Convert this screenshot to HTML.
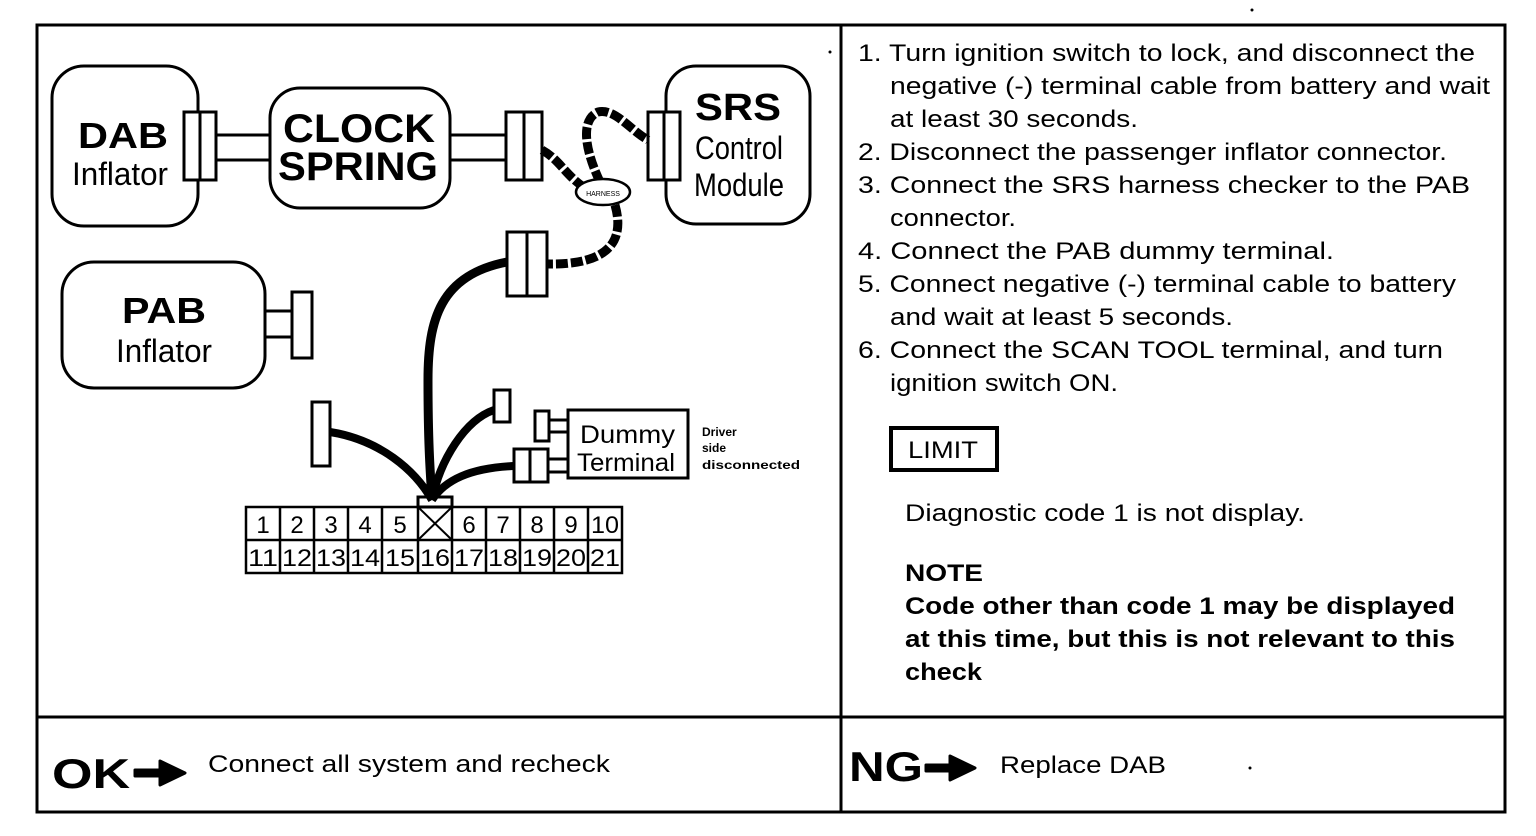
<!DOCTYPE html>
<html><head><meta charset="utf-8"><style>
html,body{margin:0;padding:0;background:#fff;}
svg{display:block;}
text{font-family:"Liberation Sans",Arial,sans-serif;fill:#000;}
</style></head><body>
<svg width="1536" height="836" viewBox="0 0 1536 836" xmlns="http://www.w3.org/2000/svg">
<rect x="0" y="0" width="1536" height="836" fill="#fff"/>
<!-- frame -->
<rect x="37" y="25" width="1468" height="787" fill="none" stroke="#000" stroke-width="3"/>
<line x1="841" y1="25" x2="841" y2="812" stroke="#000" stroke-width="3"/>
<line x1="37" y1="717" x2="1505" y2="717" stroke="#000" stroke-width="3"/>
<circle cx="1252" cy="10" r="1.5"/><circle cx="830" cy="52" r="1.5"/><circle cx="1250" cy="768" r="1.5"/>

<g fill="none" stroke="#000" stroke-width="3">
<!-- DAB -->
<rect x="52" y="66" width="146" height="160" rx="32"/>
<rect x="184" y="112" width="32" height="68" fill="#fff"/><line x1="200" y1="112" x2="200" y2="180"/>
<line x1="216" y1="135" x2="270" y2="135"/><line x1="216" y1="160" x2="270" y2="160"/>
<!-- Clock -->
<rect x="270" y="88" width="180" height="120" rx="30"/>
<line x1="450" y1="135" x2="506" y2="135"/><line x1="450" y1="160" x2="506" y2="160"/>
<rect x="506" y="112" width="36" height="68" fill="#fff"/><line x1="524" y1="112" x2="524" y2="180"/>
<!-- SRS -->
<rect x="666" y="66" width="144" height="158" rx="30"/>
<rect x="648" y="112" width="32" height="68" fill="#fff"/><line x1="664" y1="112" x2="664" y2="180"/>
<!-- harness -->
<g stroke-width="9" stroke-dasharray="12 3">
<path d="M542 150 C560 160 565 175 585 188"/>
<path d="M600 182 C585 150 580 120 598 112 C615 108 630 130 648 140"/>
<path d="M615 205 C625 240 610 265 548 264"/>
</g>
<ellipse cx="603" cy="192" rx="27" ry="13" fill="#fff" stroke-width="2.5"/>
<rect x="507" y="232" width="40" height="64" fill="#fff"/><line x1="527" y1="232" x2="527" y2="296"/>
<!-- main cable -->
<path d="M507 262 C440 275 428 320 428 380 C428 440 430 470 432 500" stroke-width="9"/>
<path d="M330 432 C380 440 415 470 432 500" stroke-width="8"/>
<path d="M494 410 C465 420 440 460 432 500" stroke-width="8"/>
<path d="M514 466 C470 468 445 480 432 500" stroke-width="8"/>
<!-- PAB -->
<rect x="62" y="262" width="203" height="126" rx="32"/>
<line x1="265" y1="311" x2="292" y2="311"/><line x1="265" y1="337" x2="292" y2="337"/>
<rect x="292" y="292" width="20" height="66" fill="#fff"/>
<rect x="312" y="402" width="18" height="64" fill="#fff"/>
<rect x="494" y="390" width="16" height="32" fill="#fff"/>
<!-- dummy -->
<rect x="535" y="411" width="14" height="30" fill="#fff"/>
<line x1="549" y1="420" x2="568" y2="420"/><line x1="549" y1="432" x2="568" y2="432"/>
<rect x="514" y="449" width="34" height="33" fill="#fff"/><line x1="530" y1="449" x2="530" y2="482"/>
<line x1="548" y1="459" x2="568" y2="459"/><line x1="548" y1="472" x2="568" y2="472"/>
<rect x="568" y="410" width="120" height="68" fill="#fff"/>
<!-- table -->
<rect x="418" y="497" width="34" height="10"/>
<rect x="246" y="507" width="376" height="66" stroke-width="2.5"/>
<line x1="246" y1="540" x2="622" y2="540" stroke-width="2.5"/>
<line x1="418" y1="507" x2="452" y2="540" stroke-width="2"/><line x1="452" y1="507" x2="418" y2="540" stroke-width="2"/>
</g>
<g stroke="#000" stroke-width="2.5">
<line x1="280" y1="507" x2="280" y2="573"/><line x1="314" y1="507" x2="314" y2="573"/><line x1="348" y1="507" x2="348" y2="573"/>
<line x1="382" y1="507" x2="382" y2="573"/><line x1="418" y1="507" x2="418" y2="573"/><line x1="452" y1="507" x2="452" y2="573"/>
<line x1="486" y1="507" x2="486" y2="573"/><line x1="520" y1="507" x2="520" y2="573"/><line x1="554" y1="507" x2="554" y2="573"/>
<line x1="588" y1="507" x2="588" y2="573"/>
</g>
<g font-size="24" text-anchor="middle">
<text x="263" y="533">1</text><text x="297" y="533">2</text><text x="331" y="533">3</text><text x="365" y="533">4</text><text x="400" y="533">5</text>
<text x="469" y="533">6</text><text x="503" y="533">7</text><text x="537" y="533">8</text><text x="571" y="533">9</text><text x="605" y="533" textLength="28" lengthAdjust="spacingAndGlyphs">10</text>
</g>
<g font-size="24" text-anchor="middle" lengthAdjust="spacingAndGlyphs">
<text x="263" y="566" textLength="30" lengthAdjust="spacingAndGlyphs">11</text><text x="297" y="566" textLength="30" lengthAdjust="spacingAndGlyphs">12</text><text x="331" y="566" textLength="30" lengthAdjust="spacingAndGlyphs">13</text><text x="365" y="566" textLength="30" lengthAdjust="spacingAndGlyphs">14</text><text x="400" y="566" textLength="30" lengthAdjust="spacingAndGlyphs">15</text><text x="435" y="566" textLength="30" lengthAdjust="spacingAndGlyphs">16</text><text x="469" y="566" textLength="30" lengthAdjust="spacingAndGlyphs">17</text><text x="503" y="566" textLength="30" lengthAdjust="spacingAndGlyphs">18</text><text x="537" y="566" textLength="30" lengthAdjust="spacingAndGlyphs">19</text><text x="571" y="566" textLength="30" lengthAdjust="spacingAndGlyphs">20</text><text x="605" y="566" textLength="30" lengthAdjust="spacingAndGlyphs">21</text>
</g>
<!-- diagram labels -->
<text x="123" y="148" font-size="36" font-weight="bold" text-anchor="middle" textLength="90" lengthAdjust="spacingAndGlyphs">DAB</text>
<text x="120" y="185" font-size="32" text-anchor="middle" textLength="96" lengthAdjust="spacingAndGlyphs">Inflator</text>
<text x="359" y="142" font-size="40" font-weight="bold" text-anchor="middle" textLength="152" lengthAdjust="spacingAndGlyphs">CLOCK</text>
<text x="358" y="180" font-size="40" font-weight="bold" text-anchor="middle" textLength="160" lengthAdjust="spacingAndGlyphs">SPRING</text>
<text x="738" y="120" font-size="38" font-weight="bold" text-anchor="middle" textLength="86" lengthAdjust="spacingAndGlyphs">SRS</text>
<text x="739" y="159" font-size="32" text-anchor="middle" textLength="88" lengthAdjust="spacingAndGlyphs">Control</text>
<text x="739" y="196" font-size="32" text-anchor="middle" textLength="90" lengthAdjust="spacingAndGlyphs">Module</text>
<text x="603" y="196" font-size="7" text-anchor="middle">HARNESS</text>
<text x="164" y="323" font-size="36" font-weight="bold" text-anchor="middle" textLength="84" lengthAdjust="spacingAndGlyphs">PAB</text>
<text x="164" y="362" font-size="32" text-anchor="middle" textLength="96" lengthAdjust="spacingAndGlyphs">Inflator</text>
<text x="580" y="443" font-size="25" textLength="95" lengthAdjust="spacingAndGlyphs">Dummy</text>
<text x="577" y="471" font-size="25" textLength="98" lengthAdjust="spacingAndGlyphs">Terminal</text>
<g font-size="12" font-weight="bold"><text x="702" y="436">Driver</text><text x="702" y="452">side</text><text x="702" y="469" textLength="98" lengthAdjust="spacingAndGlyphs">disconnected</text></g>
<!-- right text -->
<g font-size="24" lengthAdjust="spacingAndGlyphs">
<text x="858" y="61" textLength="617" lengthAdjust="spacingAndGlyphs">1. Turn ignition switch to lock, and disconnect the</text>
<text x="890" y="94" textLength="600" lengthAdjust="spacingAndGlyphs">negative (-) terminal cable from battery and wait</text>
<text x="890" y="127" textLength="248" lengthAdjust="spacingAndGlyphs">at least 30 seconds.</text>
<text x="858" y="160" textLength="589" lengthAdjust="spacingAndGlyphs">2. Disconnect the passenger inflator connector.</text>
<text x="858" y="193" textLength="612" lengthAdjust="spacingAndGlyphs">3. Connect the SRS harness checker to the PAB</text>
<text x="890" y="226" textLength="126" lengthAdjust="spacingAndGlyphs">connector.</text>
<text x="858" y="259" textLength="476" lengthAdjust="spacingAndGlyphs">4. Connect the PAB dummy terminal.</text>
<text x="858" y="292" textLength="598" lengthAdjust="spacingAndGlyphs">5. Connect negative (-) terminal cable to battery</text>
<text x="890" y="325" textLength="343" lengthAdjust="spacingAndGlyphs">and wait at least 5 seconds.</text>
<text x="858" y="358" textLength="585" lengthAdjust="spacingAndGlyphs">6. Connect the SCAN TOOL terminal, and turn</text>
<text x="890" y="391" textLength="228" lengthAdjust="spacingAndGlyphs">ignition switch ON.</text>
</g>
<rect x="891" y="428" width="106" height="42" fill="none" stroke="#000" stroke-width="4"/>
<text x="908" y="458" font-size="24" textLength="70" lengthAdjust="spacingAndGlyphs">LIMIT</text>
<text x="905" y="521" font-size="24" textLength="400" lengthAdjust="spacingAndGlyphs">Diagnostic code 1 is not display.</text>
<g font-size="24" font-weight="bold">
<text x="905" y="581" textLength="78" lengthAdjust="spacingAndGlyphs">NOTE</text>
<text x="905" y="614" textLength="550" lengthAdjust="spacingAndGlyphs">Code other than code 1 may be displayed</text>
<text x="905" y="647" textLength="550" lengthAdjust="spacingAndGlyphs">at this time, but this is not relevant to this</text>
<text x="905" y="680" textLength="77" lengthAdjust="spacingAndGlyphs">check</text>
</g>
<!-- bottom -->
<text x="52" y="788" font-size="42" font-weight="bold" textLength="78" lengthAdjust="spacingAndGlyphs">OK</text>
<path d="M135 770 L160 770 L160 761 L185 773 L160 785 L160 776 L135 776 Z" stroke="#000" stroke-width="3" stroke-linejoin="round"/>
<text x="208" y="772" font-size="24" textLength="402" lengthAdjust="spacingAndGlyphs">Connect all system and recheck</text>
<text x="849" y="781" font-size="42" font-weight="bold" textLength="74" lengthAdjust="spacingAndGlyphs">NG</text>
<path d="M926 765 L950 765 L950 756 L975 768 L950 780 L950 771 L926 771 Z" stroke="#000" stroke-width="3" stroke-linejoin="round"/>
<text x="1000" y="773" font-size="24" textLength="166" lengthAdjust="spacingAndGlyphs">Replace DAB</text>
</svg>
</body></html>
